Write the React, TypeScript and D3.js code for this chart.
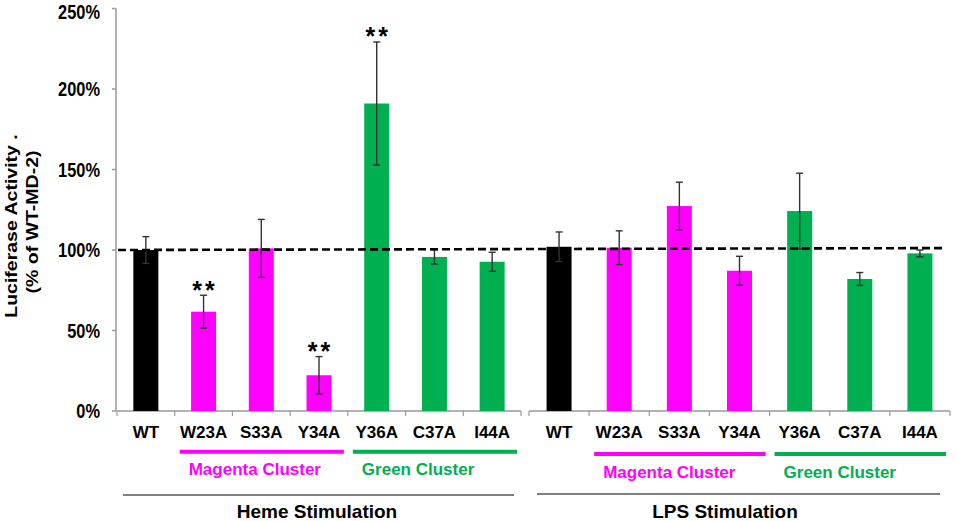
import React from "react";
import * as d3 from "d3";

const categories = ["WT", "W23A", "S33A", "Y34A", "Y36A", "C37A", "I44A"];
const barColors = ["#000000", "#FF00FF", "#FF00FF", "#FF00FF", "#00B050", "#00B050", "#00B050"];
const hemeValues = [100, 61.7, 101, 22.2, 191, 95.7, 92.7];
const hemeErrors = [8.3, 10.2, 18, 11.6, 38.2, 4.4, 5.9];
const hemeSignif = ["", "**", "", "**", "**", "", ""];
const lpsValues = [102, 101.4, 127.3, 87.1, 124.2, 82, 97.9];
const lpsErrors = [9.2, 10.5, 14.8, 9, 23.5, 4, 2.1];
const lpsSignif = ["", "", "", "", "", "", ""];
const yTicks = [0, 50, 100, 150, 200, 250];
const yTickLabels = ["0%", "50%", "100%", "150%", "200%", "250%"];
const clusterNames = ["Magenta Cluster", "Green Cluster"];
const clusterColors = ["#FF00FF", "#00B050"];
const clusterRanges = [[1, 3], [4, 6]];
const groupNames = ["Heme Stimulation", "LPS Stimulation"];
const refLine = [100, 101.2];

const W = 957;
const H = 521;
const FONT = "'Liberation Sans', Arial, sans-serif";
const BAR_W = 25;

const y = d3.scaleLinear().domain([0, 250]).range([411, 8.5]);

function makeX(r0: number, r1: number) {
  const step = (r1 - r0) / categories.length;
  const p = 1 - BAR_W / step;
  return d3.scaleBand<string>().domain(categories).range([r0, r1]).paddingInner(p).paddingOuter(p / 2);
}

const groups = [
  { x: makeX(117, 521), values: hemeValues, errors: hemeErrors, signif: hemeSignif, clusterY: 451.7, grayY: 495, gray: [123, 514], labelX: 317 },
  { x: makeX(529, 950), values: lpsValues, errors: lpsErrors, signif: lpsSignif, clusterY: 454, grayY: 494, gray: [537, 940], labelX: 725 },
];

function Group({ g, gi }: { g: any; gi: number }) {
  const x = g.x;
  const step = x.step();
  const [r0, r1] = x.range();
  const bounds = d3.range(categories.length + 1).map((i) => r0 + i * step);
  return (
    <g>
      <line x1={r0} x2={r1} y1={y(0)} y2={y(0)} stroke="#999" strokeWidth={1.5} />
      {bounds.map((b, i) => (
        <line key={i} x1={b} x2={b} y1={y(0)} y2={y(0) + 5} stroke="#999" strokeWidth={1.2} />
      ))}
      {categories.map((c, i) => (
        <rect key={c} x={x(c)} width={x.bandwidth()} y={y(g.values[i])} height={y(0) - y(g.values[i])} fill={barColors[i]} />
      ))}
      {categories.map((c, i) => {
        const cx = (x(c) as number) + x.bandwidth() / 2;
        const top = y(g.values[i] + g.errors[i]);
        const bot = y(g.values[i] - g.errors[i]);
        return (
          <g key={c} stroke="#333" strokeWidth={1.4}>
            <line x1={cx} x2={cx} y1={top} y2={bot} />
            <line x1={cx - 3.5} x2={cx + 3.5} y1={top} y2={top} />
            <line x1={cx - 3.5} x2={cx + 3.5} y1={bot} y2={bot} />
          </g>
        );
      })}
      {categories.map((c, i) =>
        g.signif[i] ? (
          <text key={c} x={(x(c) as number) + x.bandwidth() / 2 + 1.5} y={y(g.values[i] + g.errors[i]) + 3.5} textAnchor="middle" fontFamily={FONT} fontWeight="bold" fontSize={25} letterSpacing={3} fill="#000">
            {g.signif[i]}
          </text>
        ) : null
      )}
      {categories.map((c) => (
        <text key={c} x={(x(c) as number) + x.bandwidth() / 2} y={438} textAnchor="middle" fontFamily={FONT} fontWeight="bold" fontSize={17} fill="#000">
          {c}
        </text>
      ))}
      {clusterNames.map((n, k) => {
        const [a, b] = clusterRanges[k];
        const xs = bounds[a] + 5;
        const xe = bounds[b + 1] - 4;
        return (
          <g key={n}>
            <line x1={xs} x2={xe} y1={g.clusterY} y2={g.clusterY} stroke={clusterColors[k]} strokeWidth={4} />
            <text x={xs + 9} y={g.clusterY + 23.5} fontFamily={FONT} fontWeight="bold" fontSize={17} fill={clusterColors[k]}>
              {n}
            </text>
          </g>
        );
      })}
      <line x1={g.gray[0]} x2={g.gray[1]} y1={g.grayY} y2={g.grayY} stroke="#808080" strokeWidth={2} />
      <text x={g.labelX} y={518} textAnchor="middle" fontFamily={FONT} fontWeight="bold" fontSize={19} fill="#000">
        {groupNames[gi]}
      </text>
    </g>
  );
}

export default function App() {
  return (
    <svg width={W} height={H} style={{ position: "absolute", left: 0, top: 0, background: "#fff" }}>
      <rect width={W} height={H} fill="#fff" />
      <line x1={116} x2={116} y1={y(0)} y2={y(250)} stroke="#999" strokeWidth={1.5} />
      {yTicks.map((t, i) => (
        <g key={t}>
          <line x1={112} x2={116} y1={y(t)} y2={y(t)} stroke="#999" strokeWidth={1.5} />
          <text transform={`translate(100,${Math.max(y(t) + 7, 18.5)}) scale(0.82,1)`} textAnchor="end" fontFamily={FONT} fontWeight="bold" fontSize={20} fill="#000">
            {yTickLabels[i]}
          </text>
        </g>
      ))}
      <text transform={`translate(17,226) rotate(-90) scale(1,0.82)`} textAnchor="middle" fontFamily={FONT} fontWeight="bold" fontSize={19.5} fill="#000">
        Luciferase Activity .
      </text>
      <text transform={`translate(38,222) rotate(-90) scale(1,0.82)`} textAnchor="middle" fontFamily={FONT} fontWeight="bold" fontSize={19.5} fill="#000">
        (% of WT-MD-2)
      </text>
      {groups.map((g, gi) => (
        <Group key={gi} g={g} gi={gi} />
      ))}
      <line x1={118} x2={946} y1={y(refLine[0])} y2={y(refLine[1])} stroke="#000" strokeWidth={2.6} strokeDasharray="8,4" />
    </svg>
  );
}
